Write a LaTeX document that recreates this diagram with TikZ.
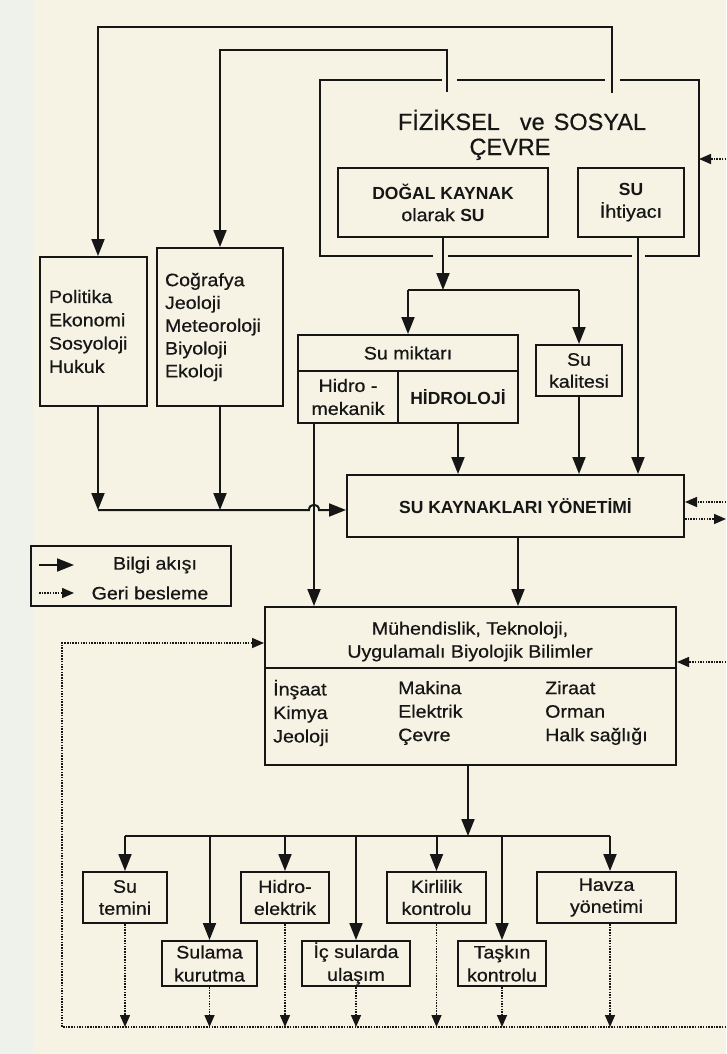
\documentclass[tikz,border=0pt]{standalone}
\usepackage{fontspec}
\setmainfont{Liberation Sans}[FakeStretch=1.09,FakeBold=0.6]
\newfontfamily\boldfam{Liberation Sans}
\newfontfamily\titlefam{Liberation Sans}[FakeBold=0.6]
\usetikzlibrary{arrows.meta}
\definecolor{paper}{RGB}{246,243,228}
\definecolor{strip}{RGB}{238,242,234}
\definecolor{ink}{RGB}{22,22,22}
\newcommand{\mybf}[1]{{\boldfam\bfseries\fontsize{17.5}{22}\selectfont #1}}
\begin{document}
\begin{tikzpicture}[x=1pt,y=-1pt,
  every node/.style={text=ink, font=\fontsize{18}{22}\selectfont},
  box/.style={draw=ink, line width=2pt, inner sep=0pt, align=center},
  conn/.style={draw=ink, line width=2pt},
  arr/.style={conn, -{Triangle[length=17pt,width=13pt]}},
  fbline/.style={draw=ink, line width=1.5pt, dash pattern=on 1.5pt off 1.2pt},
  fbarr/.style={fbline, -{Triangle[length=12pt,width=10pt]}},
  cell/.style={inner sep=0pt, align=center}
]
% background
\fill[paper] (0,0) rectangle (726,1054);
\fill[strip] (0,0) rectangle (33,1054);
\useasboundingbox (0,0) rectangle (726,1054);

% ===== environment frame (with gaps where lines pass) =====
\draw[conn] (442,80) -- (320,80) -- (320,256) -- (433,256);
\draw[conn] (448,256) -- (632,256);
\draw[conn] (645,256) -- (699,256) -- (699,80) -- (620,80);
\draw[conn] (605,80) -- (457,80);
\node[anchor=base, font=\titlefam\fontsize{23.5}{28}\selectfont] (title1) at (522,130) {FİZİKSEL\hspace{20pt}ve\hspace{9pt}SOSYAL};
\node[anchor=base, font=\titlefam\fontsize{23.5}{28}\selectfont] (title2) at (510,155) {ÇEVRE};

\node[box, minimum width=210pt, minimum height=69pt] (dogal) at (443,202.5) {\mybf{DOĞAL KAYNAK}\\olarak \mybf{SU}};
\node[box, minimum width=106pt, minimum height=69pt] (ihtiyac) at (631,202.5) {\mybf{SU}\\İhtiyacı};

% ===== left boxes =====
\node[box, minimum width=107pt, minimum height=149pt, text width=89pt, inner xsep=9pt, align=left,
      font=\fontsize{18}{23.3}\selectfont] (pol) at (93.5,331.5) {Politika\\Ekonomi\\Sosyoloji\\Hukuk};
\node[box, minimum width=126pt, minimum height=158pt, text width=110pt, inner xsep=8pt, align=left,
      font=\fontsize{18}{22.8}\selectfont] (cog) at (220,327) {Coğrafya\\Jeoloji\\Meteoroloji\\Biyoloji\\Ekoloji};

% ===== Su miktari =====
\node[box, minimum width=220pt, minimum height=88pt] (sm) at (408,379) {};
\draw[conn] (298,371) -- (518,371);
\draw[conn] (398,371) -- (398,423);
\node (smt) at (408,353) {Su miktarı};
\node[cell, minimum width=100pt, minimum height=52pt, font=\fontsize{18}{23}\selectfont] (hidro) at (348,397) {Hidro -\\mekanik};
\node[cell, minimum width=120pt, minimum height=52pt] (hidrol) at (458,397) {\mybf{HİDROLOJİ}};

\node[box, minimum width=86pt, minimum height=51pt] (kal) at (579,370.5) {Su\\kalitesi};

\node[box, minimum width=337pt, minimum height=62pt] (sky) at (515.5,506) {\mybf{SU KAYNAKLARI YÖNETİMİ}};

% ===== legend =====
\node[box, minimum width=200pt, minimum height=60pt] (leg) at (131,576) {};
\node (legA) at (155,565) {Bilgi akışı};
\node (legB) at (150,593) {Geri besleme};
\coordinate (la1) at (39,565); \coordinate (la2) at (74,565);
\coordinate (lb1) at (39,593); \coordinate (lb2) at (74,593);
\draw[arr] (la1) -- (la2);
\draw[fbarr] (lb1) -- (lb2);

% ===== Muhendislik =====
\node[box, minimum width=411pt, minimum height=158pt] (muh) at (470.5,686) {};
\draw[conn] (265,668) -- (676,668);
\node[align=center, font=\fontsize{18}{23}\selectfont] (muht) at (470,641.5) {Mühendislik, Teknoloji,\\Uygulamalı Biyolojik Bilimler};
\node[anchor=west, align=left, inner sep=0pt, font=\fontsize{18}{23.5}\selectfont] (c1) at (273,713) {İnşaat\\Kimya\\Jeoloji};
\node[anchor=west, align=left, inner sep=0pt, font=\fontsize{18}{23.5}\selectfont] (c2) at (398,713) {Makina\\Elektrik\\Çevre};
\node[anchor=west, align=left, inner sep=0pt, font=\fontsize{18}{23.5}\selectfont] (c3) at (545,713) {Ziraat\\Orman\\Halk sağlığı};

% ===== application boxes =====
\node[box, minimum width=84pt, minimum height=51pt] (stm) at (125,897.5) {Su\\temini};
\node[box, minimum width=88pt, minimum height=51pt] (hid) at (285,897.5) {Hidro-\\elektrik};
\node[box, minimum width=99pt, minimum height=51pt] (kir) at (436.5,897.5) {Kirlilik\\kontrolu};
\node[box, minimum width=139pt, minimum height=51pt] (hav) at (606.5,897.5) {Havza\\yönetimi};
\node[box, minimum width=95pt, minimum height=45pt, font=\fontsize{18}{23}\selectfont] (sul) at (209.5,963.5) {Sulama\\kurutma};
\node[box, minimum width=108pt, minimum height=45pt, font=\fontsize{18}{23}\selectfont] (ics) at (356,963.5) {İç sularda\\ulaşım};
\node[box, minimum width=88pt, minimum height=45pt, font=\fontsize{18}{23}\selectfont] (tas) at (502,963.5) {Taşkın\\kontrolu};

% ===== connectors =====
% from the environment to the disciplines
\coordinate (eA) at (612,93);  \coordinate (eAt) at (612,27);
\coordinate (eB) at (447,92);  \coordinate (eBt) at (447,50);
\coordinate (polIn) at ([xshift=4.5pt]pol.north);
\coordinate (polOut) at ([xshift=4.5pt]pol.south);
\draw[arr] (eA) -- (eAt) -- (eAt -| polIn) -- (polIn);
\draw[arr] (eB) -- (eBt) -- (eBt -| cog.north) -- (cog.north);

% natural resource -> quantity / quality
\coordinate (br1) at (443,290);
\draw[conn] (br1 -| sm.north) -- (br1 -| kal.north);
\draw[arr] (dogal.south) -- (br1);
\draw[arr] (br1 -| sm.north) -- (sm.north);
\draw[arr] (br1 -| kal.north) -- (kal.north);

% need -> management
\coordinate (ih) at ([xshift=7pt]ihtiyac.south);
\draw[arr] (ih) -- (ih |- sky.north);
\draw[arr] (hidrol.south) -- (hidrol.south |- sky.north);
\draw[arr] (kal.south) -- (kal.south |- sky.north);

% disciplines -> management (with line hop)
\coordinate (jy) at (0,510);
\coordinate (hm) at (314,423);
\coordinate (hopL) at (309,510); \coordinate (hopR) at (319,510);
\draw[arr] (polOut) -- (polOut |- jy);
\draw[arr] (cog.south) -- (cog.south |- jy);
\draw[arr] (polOut |- jy) -- (hopL) .. controls +(0,-7) and +(0,-7) .. (hopR) -- (sky.west |- jy);

% hydromechanics -> engineering
\draw[arr] (hm) -- (hm |- muh.north);
\coordinate (skyOut) at ([xshift=2.5pt]sky.south);
\draw[arr] (skyOut) -- (skyOut |- muh.north);

% engineering -> applications
\coordinate (muhOut) at ([xshift=-2.5pt]muh.south);
\coordinate (br2) at (468,836);
\coordinate (havIn) at ([xshift=3.5pt]hav.north);
\draw[conn] (br2 -| stm.north) -- (br2 -| havIn);
\draw[arr] (muhOut) -- (br2);
\foreach \n in {stm,hid,kir,sul,ics,tas}
  \draw[arr] (br2 -| \n.north) -- (\n.north);
\draw[arr] (br2 -| havIn) -- (havIn);

% feedback
\coordinate (fb) at (62,1027); \coordinate (fbR) at (726,1027);
\coordinate (fbT) at (62,643);
\draw[fbarr] (fbR) -- (fb) -- (fbT) -- (fbT -| muh.west);
\foreach \n in {stm,hid,kir,sul,ics,tas}
  \draw[fbarr] (\n.south) -- (\n.south |- fb);
\coordinate (havOut) at ([xshift=3.5pt]hav.south);
\draw[fbarr] (havOut) -- (havOut |- fb);

% feedback at right edge
\coordinate (rE) at (726,159); \coordinate (envE) at (699,159);
\draw[fbarr] (rE) -- (envE);
\coordinate (r1) at (726,502); \coordinate (r2) at (726,519); \coordinate (r3) at (726,662);
\draw[fbarr] (r1) -- (r1 -| sky.east);
\draw[fbarr] (r2 -| sky.east) -- (r2);
\draw[fbarr] (r3) -- (r3 -| muh.east);
\end{tikzpicture}
\end{document}
